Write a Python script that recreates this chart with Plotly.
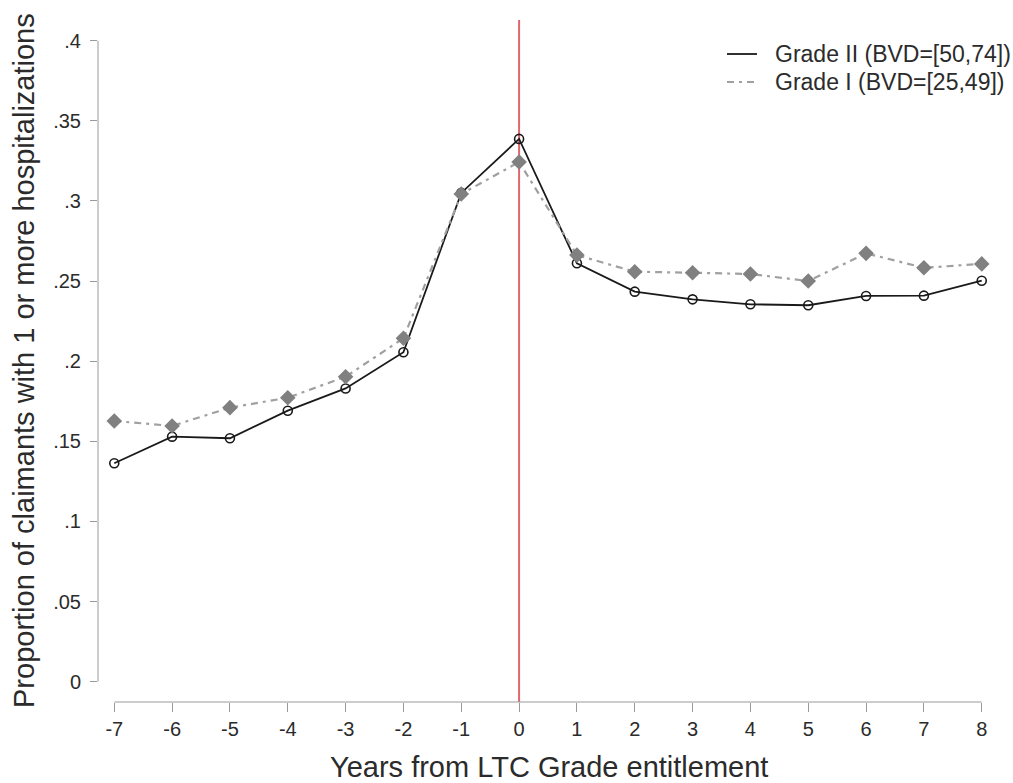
import plotly.graph_objects as go

# Years relative to LTC grade entitlement
years = [-7, -6, -5, -4, -3, -2, -1, 0, 1, 2, 3, 4, 5, 6, 7, 8]

# Share of claimants with at least one hospitalization
grade2 = [0.1363, 0.1529, 0.1519, 0.1691, 0.1830, 0.2056, 0.3050, 0.3387,
          0.2611, 0.2434, 0.2386, 0.2355, 0.2349, 0.2407, 0.2409, 0.2502]
grade1 = [0.1627, 0.1596, 0.1710, 0.1772, 0.1903, 0.2143, 0.3043, 0.3243,
          0.2662, 0.2558, 0.2552, 0.2544, 0.2500, 0.2673, 0.2583, 0.2607]

name2 = "Grade II (BVD=[50,74])"
name1 = "Grade I (BVD=[25,49])"

y_ticks = [0, 0.05, 0.1, 0.15, 0.2, 0.25, 0.3, 0.35, 0.4]
y_ticktext = ["0", ".05", ".1", ".15", ".2", ".25", ".3", ".35", ".4"]
x_ticktext = [str(v) for v in years]

FONT = "Liberation Sans, Arial, sans-serif"
TXT = "#2b2b2b"
AXC = "#9a9a9a"
GRAY = "#808080"
GRAY_LINE = "#a0a0a0"
BLACK = "#1a1a1a"
GRAY_DASH = "7px,5px,3px,5px"

# plot area in pixels, used to place the hand-drawn key
L, R, T, B = 98, 1000, 20, 702


def px_x(p):
    return (p - L) / (R - L)


def px_y(p):
    return (B - p) / (B - T)


fig = go.Figure()

fig.add_trace(go.Scatter(
    x=years, y=grade2, mode="lines+markers", name=name2, showlegend=False,
    line=dict(color=BLACK, width=1.8),
    marker=dict(symbol="circle-open", size=9, color=BLACK, line=dict(width=1.6)),
))
fig.add_trace(go.Scatter(
    x=years, y=grade1, mode="lines+markers", name=name1, showlegend=False,
    line=dict(color=GRAY_LINE, width=2.2, dash=GRAY_DASH),
    marker=dict(symbol="diamond", size=12, color=GRAY, line=dict(width=0)),
))

shapes = [
    # entitlement year marker
    dict(type="line", xref="x", yref="paper", x0=0, x1=0, y0=0, y1=1,
         line=dict(color="#e0666e", width=2), layer="below"),
    # y axis line, spanning the tick range
    dict(type="line", xref="paper", yref="y", x0=0, x1=0, y0=0, y1=0.4,
         line=dict(color=AXC, width=1)),
    # x axis line, spanning the tick range
    dict(type="line", xref="x", yref="paper", x0=-7, x1=8, y0=0, y1=0,
         line=dict(color=AXC, width=1)),
]

annotations = [
    dict(text="Years from LTC Grade entitlement", xref="paper", yref="paper",
         x=0.5, y=px_y(767), xanchor="center", yanchor="middle", showarrow=False,
         font=dict(family=FONT, size=29, color=TXT)),
    dict(text="Proportion of claimants with 1 or more hospitalizations",
         xref="paper", yref="paper", x=px_x(24), y=0.5, xanchor="center",
         yanchor="middle", textangle=-90, showarrow=False,
         font=dict(family=FONT, size=29, color=TXT)),
]

# key: line sample + label for each series
key_rows = [(name2, 54, dict(color=BLACK, width=1.8)),
            (name1, 82, dict(color=GRAY_LINE, width=2.2, dash=GRAY_DASH))]
for label, ypx, ln in key_rows:
    shapes.append(dict(type="line", xref="paper", yref="paper",
                       x0=px_x(727), x1=px_x(757), y0=px_y(ypx), y1=px_y(ypx),
                       line=ln))
    annotations.append(dict(text=label, xref="paper", yref="paper",
                            x=px_x(773), y=px_y(ypx), xanchor="left",
                            yanchor="middle", showarrow=False,
                            font=dict(family=FONT, size=23, color=TXT)))

fig.update_layout(
    width=1013, height=783,
    margin=dict(l=L, r=1013 - R, t=T, b=783 - B),
    paper_bgcolor="white", plot_bgcolor="white",
    font=dict(family=FONT, color=TXT),
    shapes=shapes, annotations=annotations,
    showlegend=False,
    xaxis=dict(range=[-7.2815, 8.316], tickvals=years, ticktext=x_ticktext,
               showgrid=False, zeroline=False, showline=False,
               ticks="outside", ticklen=9, tickcolor=AXC, tickwidth=1,
               tickfont=dict(family=FONT, size=20, color=TXT)),
    yaxis=dict(range=[-0.01267, 0.4129], tickvals=y_ticks, ticktext=y_ticktext,
               showgrid=False, zeroline=False, showline=False,
               ticks="outside", ticklen=7, tickcolor=AXC, tickwidth=1,
               ticklabelstandoff=5,
               tickfont=dict(family=FONT, size=20, color=TXT)),
)

fig.write_html("out.html")
